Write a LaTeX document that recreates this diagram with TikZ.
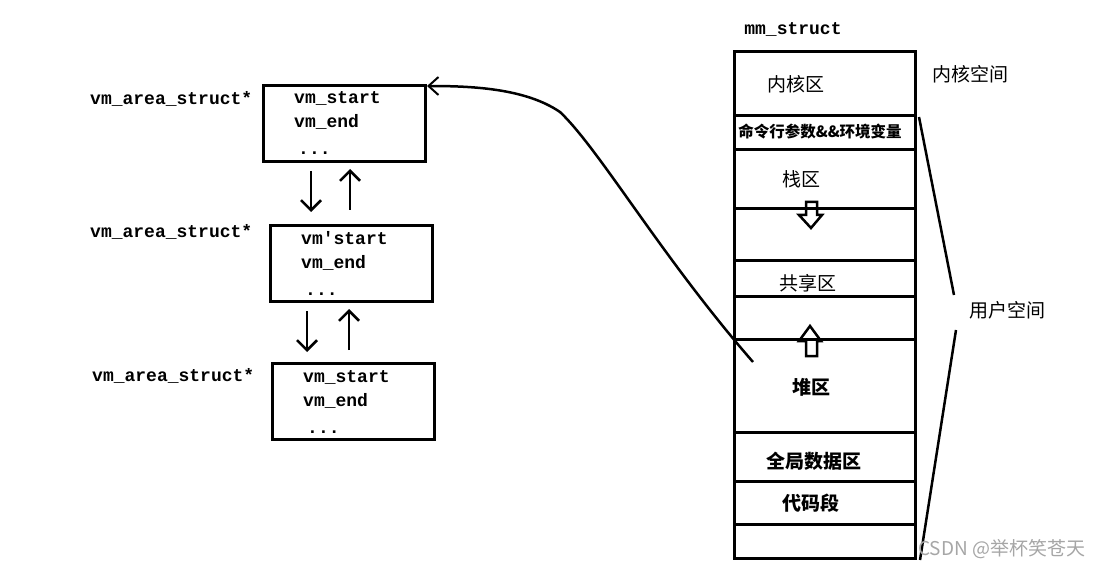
\documentclass[tikz,border=0pt]{standalone}
\usepackage{fontspec}
\usetikzlibrary{arrows.meta,calc}
\newfontfamily\cjk{Noto Sans CJK SC}
\newfontfamily\monof{Liberation Mono}
\begin{document}
\begin{tikzpicture}[x=1pt,y=-1pt,
  box/.style={draw,line width=3pt,minimum width=162pt,minimum height=76pt,inner sep=0pt,anchor=north west},
  mono/.style={font=\monof\bfseries\fontsize{18}{20}\selectfont,inner sep=0pt,anchor=base west},
  cjkt/.style={font=\cjk\fontsize{19}{22}\selectfont,inner sep=0pt,anchor=base},
  cjkb/.style={font=\cjk\bfseries\fontsize{19}{22}\selectfont,inner sep=0pt,anchor=base},
  arr/.style={line width=2.5pt,-{Straight Barb[length=10pt,width=20pt,line width=2.5pt]}},
  seg/.style={line width=3pt},
  hollow/.style={draw,line width=2.5pt,fill=white,line join=miter}]
\useasboundingbox (0,0) rectangle (1104,567);

% left boxes
\node[box] (b1) at (262,84) {};
\node[box] (b2) at (269,224) {};
\node[box] (b3) at (271,362) {};

\node[mono] (l1) at (90,105) {vm\_area\_struct*};
\node[mono] (l2) at (90,237) {vm\_area\_struct*};
\node[mono] (l3) at (92,381) {vm\_area\_struct*};

\node[mono] (s1) at ($(b1.north west)+(32,20)$) {vm\_start};
\node[mono] (e1) at ($(b1.north west)+(32,44)$) {vm\_end};
\node[mono] (d1) at ($(b1.north west)+(36,71)$) {...};
\node[mono] (s2) at ($(b2.north west)+(32,20)$) {vm'start};
\node[mono] (e2) at ($(b2.north west)+(32,44)$) {vm\_end};
\node[mono] (d2) at ($(b2.north west)+(36,71)$) {...};
\node[mono] (s3) at ($(b3.north west)+(32,20)$) {vm\_start};
\node[mono] (e3) at ($(b3.north west)+(32,44)$) {vm\_end};
\node[mono] (d3) at ($(b3.north west)+(36,71)$) {...};

% arrows between boxes
\draw[arr] ($(b1.south west)+(49,8)$) -- ($(b2.north west)+(42,-12)$);
\draw[arr] ($(b2.north west)+(81,-14)$) -- ($(b1.south west)+(88,6)$);
\draw[arr] ($(b2.south west)+(38,8)$) -- ($(b3.north west)+(36,-10)$);
\draw[arr] ($(b3.north west)+(78,-12)$) -- ($(b2.south west)+(80,6)$);

% mm_struct stack
\node[mono,anchor=base] (mmt) at (793,35) {mm\_struct};
\node[draw,line width=3pt,minimum width=181pt,minimum height=507pt,inner sep=0pt,anchor=north west] (mm) at (733,50) {};
\foreach \yy in {66,100,159,210,246,289,382,431,474}
  \draw[seg] ($(mm.north west)+(0,\yy)$) -- ($(mm.north east)+(0,\yy)$);

\node[cjkt] (kz) at (796,92) {内核区};
\node[font=\cjk\bfseries\fontsize{15.5}{18}\selectfont,inner sep=0pt,anchor=base] (cmd) at (820,138) {命令行参数\&\&环境变量};
\node[cjkt] (zq) at (801,186) {栈区};
\node[cjkt] (gx) at (808,290) {共享区};
\node[cjkb] (dq) at (811,394) {堆区};
\node[cjkb] (qj) at (814,468) {全局数据区};
\node[cjkb] (dm) at (811,510) {代码段};
\node[cjkt] (nk) at (970,82) {内核空间};
\node[cjkt] (yh) at (1007,317) {用户空间};

% hollow arrows
\draw[hollow] (806,202) -- (817,202) -- (817,215) -- (822,215) -- (811,228) -- (799,215) -- (806,215) -- cycle;
\draw[hollow] (806,356) -- (817,356) -- (817,341) -- (821,341) -- (810,326) -- (799,341) -- (806,341) -- cycle;
\draw[seg] ($(mm.north west)+(0,159)$) -- ($(mm.north east)+(0,159)$);
\draw[seg] ($(mm.north west)+(0,289)$) -- ($(mm.north east)+(0,289)$);

% brace lines
\coordinate (bt) at (954,295);
\coordinate (bb) at (956,330);
\draw[line width=2.5pt] ($(mm.north east)+(2,67)$) -- (bt);
\draw[line width=2.5pt] (bb) -- ($(mm.south east)+(3,0)$);

% curve
\coordinate (cs) at (753,362);
\draw[line width=2.5pt,-{Straight Barb[length=10pt,width=18pt,line width=2pt]}] (cs) .. controls (660,255) and (600,150) .. (560,112) .. controls (525,88) and (470,86) .. ($(b1.north east)+(0,2)$);

% watermark
\node[font=\cjk\fontsize{19}{22}\selectfont,text=black!35,inner sep=0pt,anchor=base west] (wm) at (918,555) {CSDN @举杯笑苍天};
\end{tikzpicture}
\end{document}
